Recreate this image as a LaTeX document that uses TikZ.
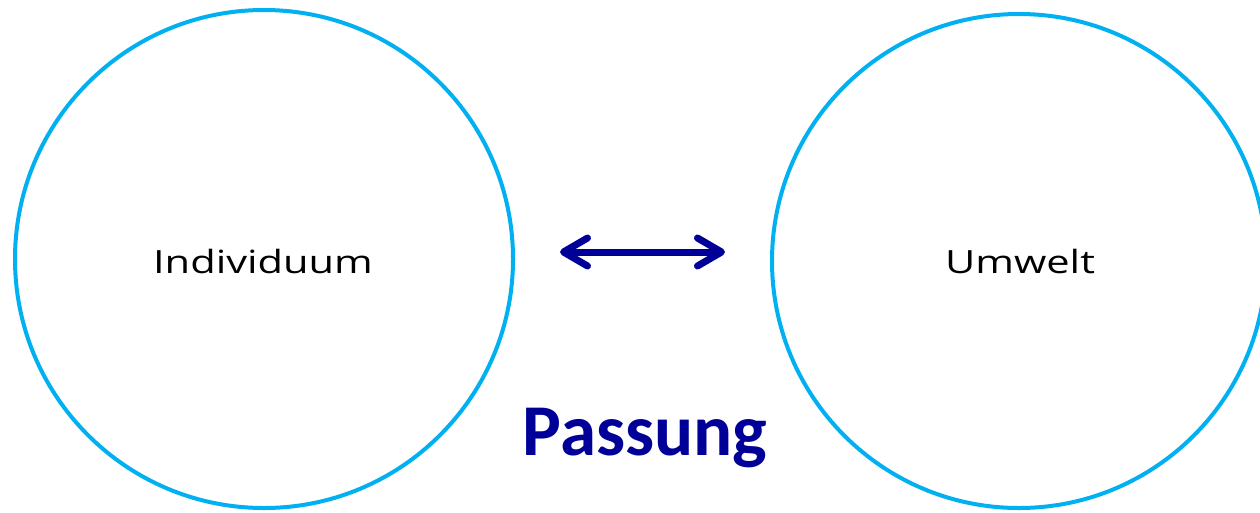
\documentclass[tikz,border=0pt]{standalone}
\usepackage{fontspec}
\setmainfont{Carlito}
\newfontfamily\labelfont{Open Sans}
\usetikzlibrary{arrows.meta}
\definecolor{ringblue}{HTML}{00B0F0}
\definecolor{navy}{HTML}{000099}
\newcommand\widetext[1]{\scalebox{1.3}[1]{#1}}
\tikzset{
  ring/.style={circle, draw=ringblue, line width=4pt, inner sep=0pt},
  label text/.style={font=\labelfont\fontsize{32}{38}\selectfont, text=black, anchor=base},
  title text/.style={font=\fontsize{73}{80}\selectfont\bfseries, text=navy, anchor=base},
  fitarrow/.style={draw=navy, line width=7pt,
    {Straight Barb[length=24pt,width=28pt,round]}-{Straight Barb[length=24pt,width=28pt,round]}}
}
\begin{document}
\begin{tikzpicture}[x=1pt,y=-1pt]
\useasboundingbox (0,0) rectangle (1260,512);
\clip (0,0) rectangle (1260,512);
\node[ring, minimum size=498pt] (ind) at (264,259) {};
\node[ring, minimum size=494pt] (umw) at (1019,261) {};
\node[label text] (indt) at (263,273) {\widetext{Individuum}};
\node[label text] (umwt) at (1020,273) {\widetext{Umwelt}};
\node[title text] (pass) at (645,455) {Passung};
\coordinate (al) at (560,252);
\coordinate (ar) at (725,252);
\draw[fitarrow] (al) -- (ar);
\end{tikzpicture}
\end{document}
